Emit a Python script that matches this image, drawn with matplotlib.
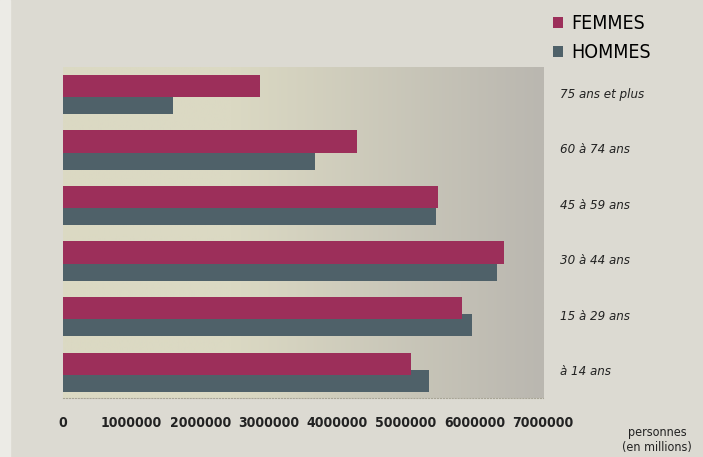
import matplotlib.pyplot as plt
import numpy as np

# tranches d'age, du bas vers le haut
ages = ["à 14 ans", "15 à 29 ans", "30 à 44 ans", "45 à 59 ans", "60 à 74 ans", "75 ans et plus"]
femmes = [5080000, 5820000, 6430000, 5460000, 4290000, 2870000]
hommes = [5330000, 5970000, 6330000, 5440000, 3670000, 1600000]
ticks = [0, 1000000, 2000000, 3000000, 4000000, 5000000, 6000000, 7000000]

C_F = "#9c2f5a"
C_H = "#4f6169"
BG = "#dcdad2"

plt.rcParams["font.family"] = ["DejaVu Sans"]
plt.rcParams["font.stretch"] = "condensed"

fig = plt.figure(figsize=(7.03, 4.57), dpi=100, facecolor=BG)
fig.patches.append(plt.Rectangle((0, 0), 0.014, 1, transform=fig.transFigure,
                                 color="#ecebe6", zorder=0))
ax = fig.add_axes([0.0896, 0.129, 0.683, 0.724])

# fond en degrade
grad = np.linspace(0, 1, 256)
c0 = np.array([0xdb, 0xd9, 0xc3]) / 255
c1 = np.array([0xba, 0xb7, 0xb0]) / 255
t = np.clip((grad - 0.35) / 0.65, 0, 1)[:, None]
img = (c0 * (1 - t) + c1 * t)[None, :, :]
ax.imshow(img, extent=[0, 7000000, -0.47, 5.49], aspect="auto", zorder=0)

y = np.arange(len(ages))
ax.barh(y - 0.16, hommes, height=0.40, color=C_H, label="HOMMES", zorder=2)
ax.barh(y + 0.15, femmes, height=0.40, color=C_F, label="FEMMES", zorder=3)

ax.set_xlim(0, 7000000)
ax.set_ylim(-0.47, 5.49)
ax.set_xticks(ticks)
ax.set_xticklabels([str(v) for v in ticks], fontsize=10, fontweight="bold", color="#222222")
ax.tick_params(axis="x", length=0, pad=13)
ax.set_yticks([])
for s in ["top", "right", "left"]:
    ax.spines[s].set_visible(False)
ax.spines["bottom"].set_linestyle(":")
ax.spines["bottom"].set_color("#a8a596")
ax.spines["bottom"].set_linewidth(0.8)

# etiquettes a droite
for i, lab in enumerate(ages):
    ax.text(1.035, (i + 0.47) / 5.96, lab, transform=ax.transAxes, fontsize=9.5,
            style="italic", color="#222222", va="center", ha="left")

h, l = ax.get_legend_handles_labels()
fig.legend(h[::-1], l[::-1], loc="upper left", bbox_to_anchor=(0.762, 1.007), frameon=False,
           handlelength=0.5, handleheight=0.5, handletextpad=0.45,
           labelspacing=0.5, prop={"size": 14, "stretch": "condensed"})

fig.text(0.935, 0.054, "personnes", fontsize=9, ha="center", va="center", color="#222222")
fig.text(0.935, 0.021, "(en millions)", fontsize=9, ha="center", va="center", color="#222222")

fig.savefig("out.png", dpi=100, facecolor=BG)
